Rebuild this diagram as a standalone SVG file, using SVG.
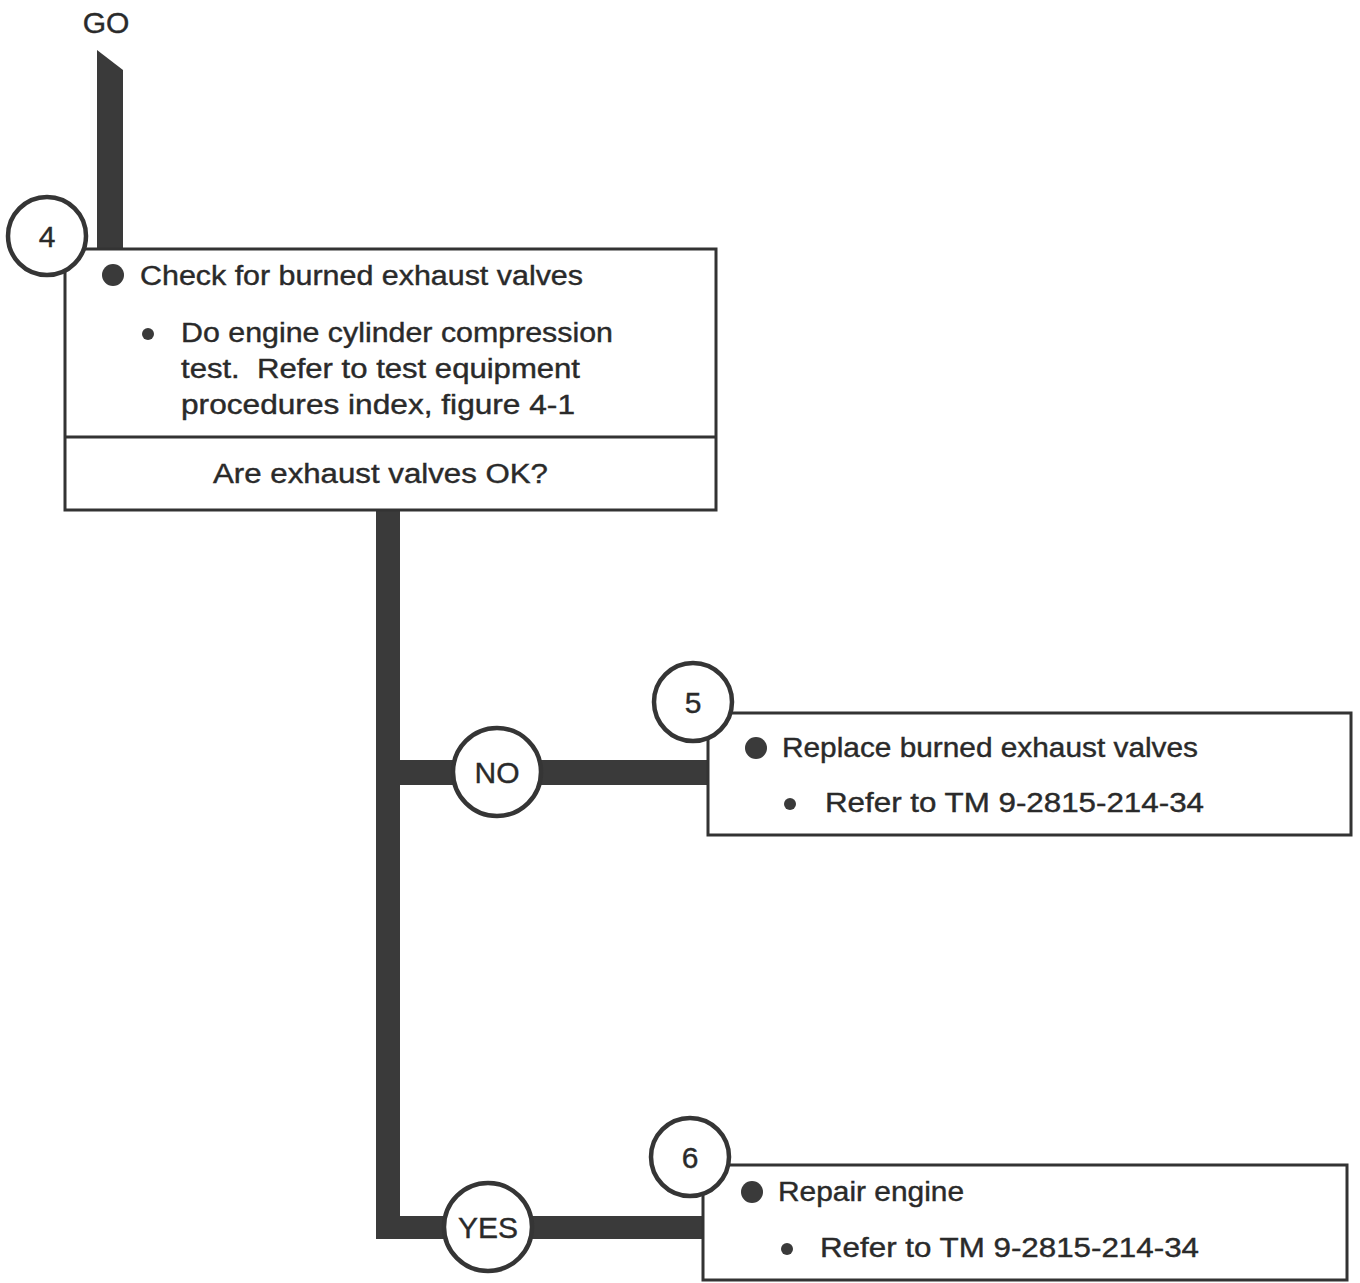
<svg xmlns="http://www.w3.org/2000/svg" width="1360" height="1283" viewBox="0 0 1360 1283">
  <style>
    .box { fill: #ffffff; stroke: #333333; stroke-width: 3; }
    .ring { fill: #ffffff; stroke: #353535; stroke-width: 4.5; }
    .bar { fill: #3a3a3a; }
    .dot { fill: #3a3a3a; }
    .t { font-family: "Liberation Sans", "DejaVu Sans", sans-serif; font-size: 27px; fill: #2a2a2a; stroke: #2a2a2a; stroke-width: 0.4; }
    .c { text-anchor: middle; }
    .lbl { font-size: 30px; }
  </style>
  <rect x="0" y="0" width="1360" height="1283" fill="#ffffff"/>

  <!-- flow lines -->
  <g id="connectors">
    <polygon class="bar" points="97,50 123,70 123,250 97,250"/>
    <polygon class="bar" points="376,509 400,509 400,1216 705,1216 705,1239 376,1239"/>
    <rect class="bar" x="398" y="760" width="310" height="25"/>
  </g>

  <!-- start label -->
  <g id="start">
    <text class="t c lbl" x="106" y="33">GO</text>
  </g>

  <!-- step 4: check -->
  <g id="step4">
    <rect class="box" x="65" y="249" width="651" height="261"/>
    <line x1="65" y1="437" x2="716" y2="437" stroke="#333333" stroke-width="3"/>
    <circle class="dot" cx="113" cy="275" r="11"/>
    <text class="t" x="140" y="285" textLength="443" lengthAdjust="spacingAndGlyphs">Check for burned exhaust valves</text>
    <circle class="dot" cx="148" cy="334" r="6"/>
    <text class="t" x="181" y="342" textLength="432" lengthAdjust="spacingAndGlyphs">Do engine cylinder compression</text>
    <text class="t" x="181" y="378" textLength="399" lengthAdjust="spacingAndGlyphs" xml:space="preserve">test.  Refer to test equipment</text>
    <text class="t" x="181" y="414" textLength="394" lengthAdjust="spacingAndGlyphs">procedures index, figure 4-1</text>
    <text class="t" x="213" y="483" textLength="335" lengthAdjust="spacingAndGlyphs">Are exhaust valves OK?</text>
    <circle class="ring" cx="47" cy="236" r="39"/>
    <text class="t c lbl" x="47" y="247">4</text>
  </g>

  <!-- decision labels -->
  <g id="no">
    <circle class="ring" cx="497" cy="772" r="44"/>
    <text class="t c lbl" x="497" y="783">NO</text>
  </g>
  <g id="yes">
    <circle class="ring" cx="488" cy="1227" r="44"/>
    <text class="t c lbl" x="488" y="1238">YES</text>
  </g>

  <!-- step 5: replace -->
  <g id="step5">
    <rect class="box" x="708" y="713" width="643" height="122"/>
    <circle class="dot" cx="756" cy="748" r="11"/>
    <text class="t" x="782" y="757" textLength="416" lengthAdjust="spacingAndGlyphs">Replace burned exhaust valves</text>
    <circle class="dot" cx="790" cy="804" r="6"/>
    <text class="t" x="825" y="812" textLength="379" lengthAdjust="spacingAndGlyphs">Refer to TM 9-2815-214-34</text>
    <circle class="ring" cx="693" cy="702" r="39"/>
    <text class="t c lbl" x="693" y="713">5</text>
  </g>

  <!-- step 6: repair -->
  <g id="step6">
    <rect class="box" x="703" y="1165" width="644" height="115"/>
    <circle class="dot" cx="752" cy="1192" r="11"/>
    <text class="t" x="778" y="1201" textLength="186" lengthAdjust="spacingAndGlyphs">Repair engine</text>
    <circle class="dot" cx="787" cy="1249" r="6"/>
    <text class="t" x="820" y="1257" textLength="379" lengthAdjust="spacingAndGlyphs">Refer to TM 9-2815-214-34</text>
    <circle class="ring" cx="690" cy="1157" r="39"/>
    <text class="t c lbl" x="690" y="1168">6</text>
  </g>
</svg>
